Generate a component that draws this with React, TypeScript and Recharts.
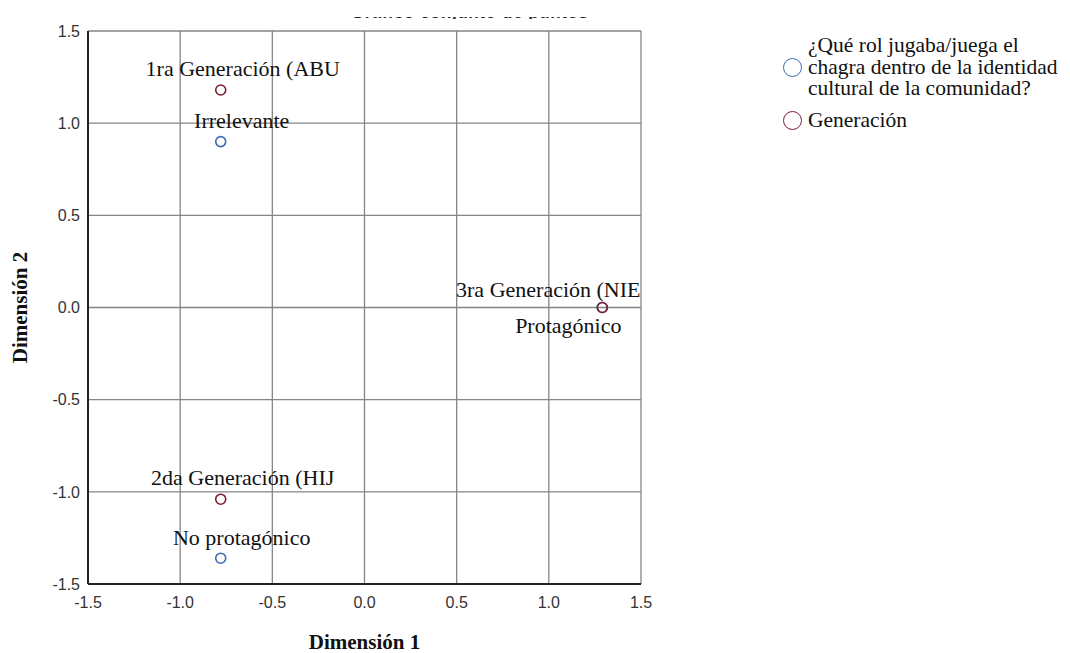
import { CartesianGrid, Scatter, ScatterChart, XAxis, YAxis } from "recharts";

// categoría 1: rol del chagra
const rolNames = ["Irrelevante", "Protagónico", "No protagónico"];
const rolDim1 = [-0.78, 1.29, -0.78];
const rolDim2 = [0.9, 0.0, -1.36];

// categoría 2: generación
const genNames = [
  "1ra Generación (ABU",
  "3ra Generación (NIE",
  "2da Generación (HIJ",
];
const genDim1 = [-0.78, 1.29, -0.78];
const genDim2 = [1.18, 0.0, -1.04];

const axisTicks = [-1.5, -1.0, -0.5, 0.0, 0.5, 1.0, 1.5];

const legendItems = [
  {
    lines: ["¿Qué rol jugaba/juega el", "chagra dentro de la identidad", "cultural de la comunidad?"],
    color: "#3d6cb3",
  },
  { lines: ["Generación"], color: "#7e1d2e" },
];

const rolData = rolNames.map((name, i) => ({ name, x: rolDim1[i], y: rolDim2[i] }));
const genData = genNames.map((name, i) => ({ name, x: genDim1[i], y: genDim2[i] }));

// label placement relative to each point (SPSS shifts labels to avoid overlaps)
const labelPlacement: { [key: string]: { dx: number; dy: number } } = {
  Irrelevante: { dx: 21, dy: -14 },
  Protagónico: { dx: -34, dy: 25 },
  "No protagónico": { dx: 21, dy: -13 },
  "1ra Generación (ABU": { dx: 22, dy: -14 },
  "3ra Generación (NIE": { dx: -54, dy: -11 },
  "2da Generación (HIJ": { dx: 22, dy: -14 },
};

const PLOT = { left: 80, top: 23, width: 553, height: 553 };
const serif = "'Liberation Serif', 'Times New Roman', serif";
const sans = "'Liberation Sans', Arial, sans-serif";

const makeShape = (color: string) => (props: any) => {
  const { cx, cy, payload } = props;
  const p = labelPlacement[payload.name] || { dx: 0, dy: -14 };
  return (
    <g>
      <text
        x={cx + p.dx}
        y={cy + p.dy}
        textAnchor="middle"
        fontFamily={serif}
        fontSize={22}
        fill="#111"
        clipPath="url(#plotClip)">
        {payload.name}
      </text>
      <circle cx={cx} cy={cy} r={5} fill="none" stroke={color} strokeWidth={1.6} />
    </g>
  );
};

const App = () => {
  return (
    <div style={{ position: "relative", width: 1054, height: 645 }}>
      <div
        style={{
          position: "absolute",
          left: 343,
          top: 9,
          width: 240,
          height: 2,
          overflow: "hidden",
        }}>
        <div
          style={{
            marginTop: -14,
            fontFamily: sans,
            fontSize: 17,
            fontWeight: "bold",
            whiteSpace: "nowrap",
            letterSpacing: 0.6,
            color: "#222",
          }}>
          Gráfico conjunto de puntos de categoría
        </div>
      </div>
      <ScatterChart
        width={1054}
        height={645}
        margin={{ top: PLOT.top, right: 421, bottom: 39, left: 0 }}>
        <defs>
          <clipPath id="plotClip">
            <rect x={PLOT.left} y={PLOT.top} width={PLOT.width} height={PLOT.height} />
          </clipPath>
        </defs>
        <CartesianGrid stroke="#858585" strokeWidth={1.3} />
        <XAxis
          type="number"
          dataKey="x"
          domain={[-1.5, 1.5]}
          ticks={axisTicks}
          tickFormatter={(v: number) => v.toFixed(1)}
          height={30}
          tickLine={false}
          tickMargin={7}
          axisLine={{ stroke: "#222", strokeWidth: 2 }}
          tick={{ fill: "#333", fontSize: 16, fontFamily: sans }}
          label={{
            value: "Dimensión 1",
            position: "bottom",
            offset: 20,
            style: { fontFamily: serif, fontSize: 21, fontWeight: "bold", fill: "#111" },
          }}
        />
        <YAxis
          type="number"
          dataKey="y"
          domain={[-1.5, 1.5]}
          ticks={axisTicks}
          tickFormatter={(v: number) => v.toFixed(1)}
          width={80}
          tickLine={false}
          axisLine={{ stroke: "#222", strokeWidth: 2 }}
          tick={{ fill: "#333", fontSize: 16, fontFamily: sans }}
          label={{
            value: "Dimensión 2",
            angle: -90,
            position: "insideLeft",
            offset: 12,
            style: {
              fontFamily: serif,
              fontSize: 21,
              fontWeight: "bold",
              fill: "#111",
              textAnchor: "middle",
            },
          }}
        />
        <Scatter data={rolData} shape={makeShape("#3d6cb3")} isAnimationActive={false} />
        <Scatter data={genData} shape={makeShape("#7e1d2e")} isAnimationActive={false} />
      </ScatterChart>
      <div
        style={{
          position: "absolute",
          left: 775,
          top: 27,
          width: 290,
          fontFamily: serif,
          fontSize: 21.5,
          lineHeight: "21.5px",
          color: "#111",
        }}>
        {legendItems.map((item) => (
          <div
            key={item.color}
            style={{ display: "flex", alignItems: "center", marginBottom: 10 }}>
            <span
              style={{
                width: 17,
                height: 17,
                borderRadius: "50%",
                border: `1.6px solid ${item.color}`,
                flexShrink: 0,
                marginRight: 6,
              }}
            />
            <span style={{ whiteSpace: "nowrap" }}>
              {item.lines.map((line) => (
                <div key={line}>{line}</div>
              ))}
            </span>
          </div>
        ))}
      </div>
    </div>
  );
};

export default App;
